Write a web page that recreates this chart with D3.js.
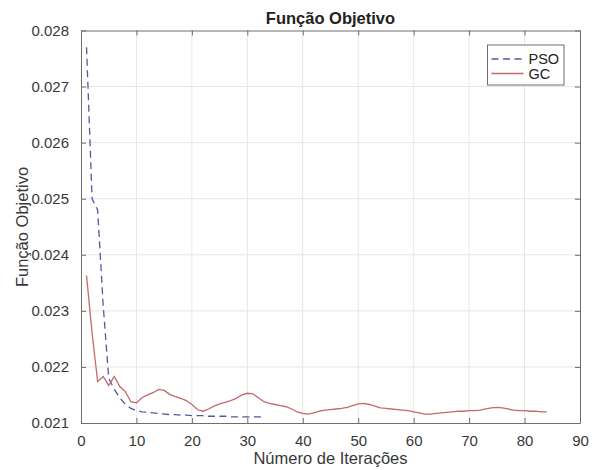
<!DOCTYPE html>
<html>
<head>
<meta charset="utf-8">
<script src="https://cdn.jsdelivr.net/npm/d3@7"></script>
<style>
  body { margin: 0; background: #fff; }
  svg { font-family: "Liberation Sans", Arial, sans-serif; }
</style>
</head>
<body>
<svg width="592" height="470"></svg>
<script>
// Convergence of the objective function, per iteration
const psoValues = [
  0.0277, 0.0250, 0.0248, 0.0231, 0.0218, 0.02160, 0.02145, 0.02133, 0.02126, 0.02122,
  0.02120, 0.02119, 0.02118, 0.02117, 0.02116, 0.02115, 0.02115, 0.02114, 0.02114, 0.02113,
  0.02113, 0.02113, 0.02112, 0.02112, 0.02112, 0.02112, 0.02111, 0.02111, 0.02111, 0.02111,
  0.02111, 0.02111, 0.02111
];
const gcValues = [
  0.02363, 0.02260, 0.02174, 0.02183, 0.02167, 0.02183, 0.02165, 0.02156, 0.02138, 0.02136,
  0.02145, 0.02150, 0.02154, 0.02160, 0.02158, 0.02151, 0.02147, 0.02144, 0.02140, 0.02133,
  0.02124, 0.02121, 0.02125, 0.02130, 0.02134, 0.02137, 0.02140, 0.02144, 0.02150, 0.02153,
  0.02152, 0.02145, 0.02138, 0.02135, 0.02133, 0.02131, 0.02129, 0.02125, 0.02120, 0.02117,
  0.02116, 0.02118, 0.02121, 0.02123, 0.02124, 0.02125, 0.02126, 0.02128, 0.02131, 0.02134,
  0.02135, 0.02133, 0.02130, 0.02127, 0.02126, 0.02125, 0.02124, 0.02123, 0.02122, 0.02120,
  0.02118, 0.02116, 0.02116, 0.02117, 0.02118, 0.02119, 0.02120, 0.02121, 0.02121, 0.02122,
  0.02122, 0.02123, 0.02125, 0.02127, 0.02128, 0.02127, 0.02125, 0.02123, 0.02122, 0.02122,
  0.02121, 0.02121, 0.02120, 0.02120
];
const xTicks = [0, 10, 20, 30, 40, 50, 60, 70, 80, 90];
const yTicks = [0.021, 0.022, 0.023, 0.024, 0.025, 0.026, 0.027, 0.028];
const seriesNames = ["PSO", "GC"];

const svg = d3.select("svg");
const margin = { top: 30.5, right: 12, bottom: 47, left: 81 };
const width = +svg.attr("width") - margin.left - margin.right;
const height = +svg.attr("height") - margin.top - margin.bottom;

const axisColor = "#6e6e6e";
const textColor = "#383838";
const psoColor = "#56569e";
const gcColor = "#c4686b";

const chart = svg.append("g").attr("transform", `translate(${margin.left},${margin.top})`);

const x = d3.scaleLinear().domain([0, 90]).range([0, width]);
const y = d3.scaleLinear().domain([0.021, 0.028]).range([height, 0]);

// grid
chart.append("g")
  .selectAll("line.vg")
  .data(xTicks.slice(1, -1))
  .join("line")
  .attr("x1", d => x(d)).attr("x2", d => x(d))
  .attr("y1", 0).attr("y2", height)
  .attr("stroke", "#e6e6e6");

chart.append("g")
  .selectAll("line.hg")
  .data(yTicks.slice(1, -1))
  .join("line")
  .attr("x1", 0).attr("x2", width)
  .attr("y1", d => y(d)).attr("y2", d => y(d))
  .attr("stroke", "#e6e6e6");

// lines
const psoData = psoValues.map((v, i) => ({ it: i + 1, v }));
const gcData = gcValues.map((v, i) => ({ it: i + 1, v }));

const line = d3.line()
  .x(d => x(d.it))
  .y(d => y(d.v));

chart.append("path")
  .datum(psoData)
  .attr("fill", "none")
  .attr("stroke", psoColor)
  .attr("stroke-width", 1.3)
  .attr("stroke-dasharray", "7,4.5")
  .attr("d", line);

chart.append("path")
  .datum(gcData)
  .attr("fill", "none")
  .attr("stroke", gcColor)
  .attr("stroke-width", 1.3)
  .attr("d", line);

// axes (inward ticks, box on)
const styleAxis = g => {
  g.select(".domain").attr("stroke", axisColor);
  g.selectAll(".tick line").attr("stroke", axisColor);
  g.selectAll(".tick text").attr("fill", textColor).style("font-size", "15px")
    .style("font-family", "Liberation Sans, Arial, sans-serif");
};

chart.append("g")
  .attr("transform", `translate(0,${height})`)
  .call(d3.axisBottom(x).tickValues(xTicks).tickSizeInner(-5).tickSizeOuter(0).tickPadding(12))
  .call(styleAxis);

chart.append("g")
  .call(d3.axisTop(x).tickValues(xTicks).tickSizeInner(-5).tickSizeOuter(0).tickFormat(""))
  .call(styleAxis);

chart.append("g")
  .call(d3.axisLeft(y).tickValues(yTicks).tickSizeInner(-5).tickSizeOuter(0).tickPadding(12)
    .tickFormat(d3.format(".3f")))
  .call(styleAxis);

chart.append("g")
  .attr("transform", `translate(${width},0)`)
  .call(d3.axisRight(y).tickValues(yTicks).tickSizeInner(-5).tickSizeOuter(0).tickFormat(""))
  .call(styleAxis);

// labels
svg.append("text")
  .attr("x", margin.left + width / 2)
  .attr("y", 24)
  .attr("text-anchor", "middle")
  .attr("font-weight", "bold")
  .attr("font-size", "16.5px")
  .attr("fill", "#222")
  .text("Função Objetivo");

svg.append("text")
  .attr("x", margin.left + width / 2)
  .attr("y", 464)
  .attr("text-anchor", "middle")
  .attr("font-size", "16.5px")
  .attr("fill", textColor)
  .text("Número de Iterações");

svg.append("text")
  .attr("transform", "rotate(-90)")
  .attr("x", -227)
  .attr("y", 28)
  .attr("text-anchor", "middle")
  .attr("font-size", "16.5px")
  .attr("fill", textColor)
  .text("Função Objetivo");

// legend
const legend = svg.append("g").attr("transform", "translate(487.5,45)");

legend.append("rect")
  .attr("width", 76.5)
  .attr("height", 40)
  .attr("fill", "#fff")
  .attr("stroke", axisColor);

const legendColors = [psoColor, gcColor];
const legendDash = ["7,4.5", null];

seriesNames.forEach((name, i) => {
  const ly = 14 + i * 14.5;
  legend.append("line")
    .attr("x1", 4).attr("x2", 36)
    .attr("y1", ly).attr("y2", ly)
    .attr("stroke", legendColors[i])
    .attr("stroke-width", 1.3)
    .attr("stroke-dasharray", legendDash[i]);
  legend.append("text")
    .attr("x", 41)
    .attr("y", ly + 5)
    .attr("font-size", "14.5px")
    .attr("fill", "#222")
    .text(name);
});
</script>
</body>
</html>
